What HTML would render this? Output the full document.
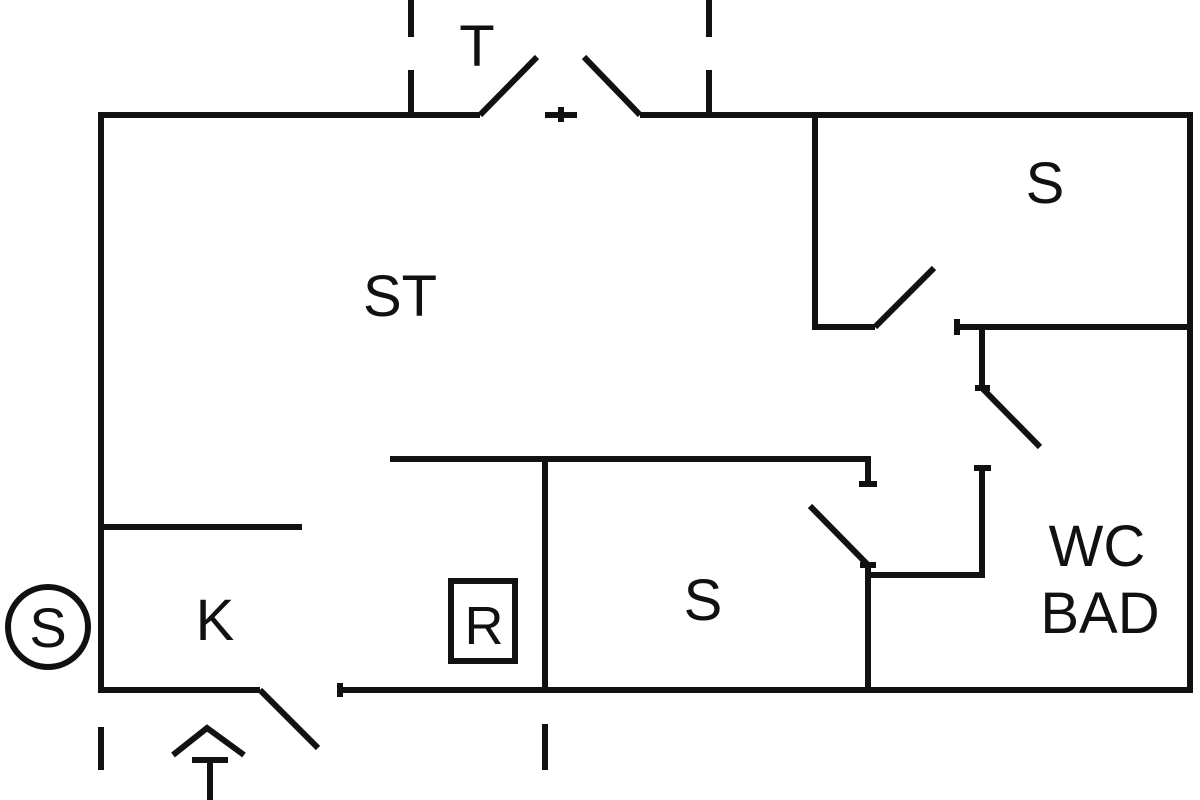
<!DOCTYPE html>
<html><head><style>
html,body{margin:0;padding:0;background:#fff;width:1200px;height:800px;overflow:hidden}
text{font-family:"Liberation Sans",sans-serif;fill:#111}
</style></head><body>
<svg width="1200" height="800" viewBox="0 0 1200 800" xmlns="http://www.w3.org/2000/svg">
<g stroke="#111" stroke-width="6" fill="none" stroke-linecap="butt">
<polyline points="480,115 101,115 101,690 260,690"/>
<polyline points="640,115 1190,115 1190,690 340,690"/>
<line x1="480" y1="115" x2="537" y2="57"/>
<line x1="640" y1="115" x2="584" y2="57"/>
<line x1="545" y1="115" x2="577" y2="115"/>
<line x1="561" y1="107" x2="561" y2="122"/>
<line x1="411" y1="0" x2="411" y2="37"/><line x1="411" y1="70" x2="411" y2="115"/>
<line x1="709" y1="0" x2="709" y2="37"/><line x1="709" y1="70" x2="709" y2="115"/>
<line x1="260" y1="690" x2="318" y2="748"/>
<line x1="340" y1="683" x2="340" y2="697"/>
<polyline points="815,115 815,327 875,327"/>
<line x1="875" y1="327" x2="934" y2="268"/>
<line x1="957" y1="327" x2="1190" y2="327"/>
<line x1="957" y1="319" x2="957" y2="335"/>
<line x1="982" y1="327" x2="982" y2="388"/>
<line x1="982" y1="388" x2="1040" y2="447"/>
<line x1="975" y1="388" x2="990" y2="388"/>
<line x1="974" y1="468" x2="991" y2="468"/>
<polyline points="982,468 982,575 868,575"/>
<line x1="868" y1="565" x2="868" y2="690"/>
<line x1="868" y1="565" x2="810" y2="506"/>
<line x1="860" y1="565" x2="876" y2="565"/>
<polyline points="390,459 868,459 868,484"/>
<line x1="859" y1="484" x2="877" y2="484"/>
<line x1="545" y1="459" x2="545" y2="690"/>
<line x1="101" y1="527" x2="302" y2="527"/>
<rect x="451" y="581" width="64" height="80"/>
<line x1="101" y1="727" x2="101" y2="770"/>
<line x1="545" y1="724" x2="545" y2="770"/>
<polyline points="173,755 207,728 244,755"/>
<line x1="192" y1="760" x2="228" y2="760"/>
<line x1="210" y1="760" x2="210" y2="800"/>
<circle cx="48" cy="627" r="40"/>
</g>
<g text-anchor="middle">
<text x="477" y="66" font-size="58">T</text>
<text x="400" y="316" font-size="58">ST</text>
<text x="1045" y="203" font-size="58">S</text>
<text x="703" y="620" font-size="58">S</text>
<text x="215" y="640" font-size="58">K</text>
<text x="484" y="644" font-size="54">R</text>
<text x="48" y="647" font-size="56">S</text>
<text x="1097" y="566" font-size="58">WC</text>
<text x="1100" y="633" font-size="58">BAD</text>
</g>
</svg>
</body></html>
